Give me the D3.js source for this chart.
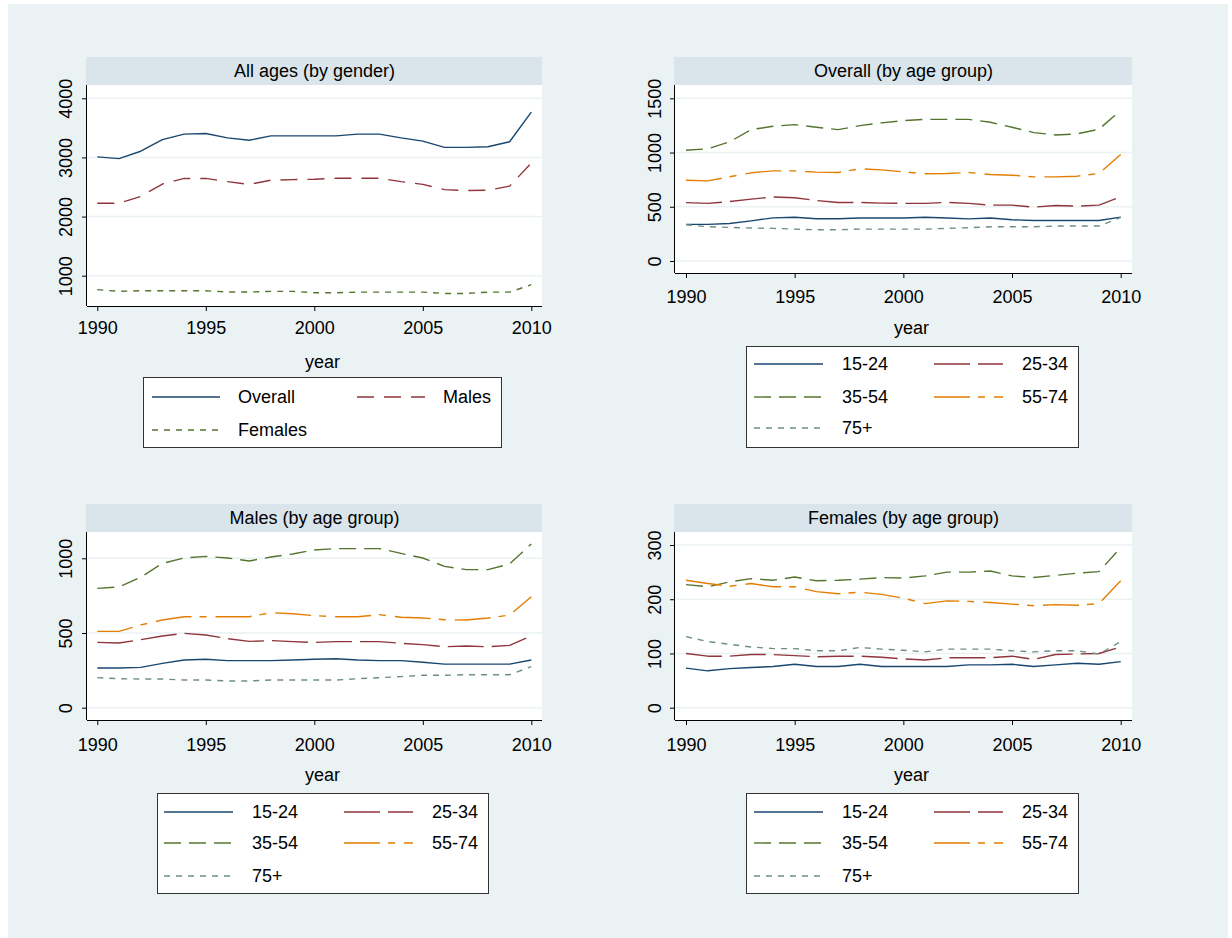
<!DOCTYPE html>
<html>
<head>
<meta charset="utf-8">
<script src="https://cdn.jsdelivr.net/npm/d3@7"></script>
<style>
  html, body { margin: 0; padding: 0; background: #ffffff; }
  svg { display: block; font-family: "Liberation Sans", Arial, Helvetica, sans-serif; }
</style>
</head>
<body>
<svg id="chart" width="1232" height="938"></svg>
<script>
// ---------------- DATA ----------------
const years = [1990,1991,1992,1993,1994,1995,1996,1997,1998,1999,2000,2001,2002,2003,2004,2005,2006,2007,2008,2009,2010];
const xTickValues = [1990, 1995, 2000, 2005, 2010];

// Panel 1: All ages (by gender)
const genderSeriesNames = ["Overall", "Males", "Females"];
const allOverall = [3010,2980,3105,3300,3395,3405,3330,3290,3365,3365,3365,3365,3395,3395,3330,3275,3170,3170,3180,3265,3765];
const allMales   = [2225,2225,2340,2550,2645,2645,2590,2545,2615,2625,2630,2648,2648,2648,2590,2545,2455,2440,2445,2515,2905];
const allFemales = [765,735,745,745,745,745,725,725,735,735,712,712,722,722,722,722,700,700,722,722,848];
const genderTicks = [1000, 2000, 3000, 4000];

// Age-group labels
const ageGroups = ["15-24", "25-34", "35-54", "55-74", "75+"];

// Panel 2: Overall (by age group)
const overall1524 = [338,338,346,370,398,404,390,390,396,396,396,404,396,388,396,380,374,374,374,374,404];
const overall2534 = [538,531,548,570,590,583,558,540,540,534,531,531,540,531,515,515,497,512,506,515,592];
const overall3554 = [1021,1034,1098,1211,1242,1257,1233,1211,1248,1273,1294,1306,1306,1306,1279,1233,1184,1162,1172,1215,1389];
const overall5574 = [745,739,776,813,831,831,819,816,850,840,822,804,807,816,797,791,776,776,782,807,981];
const overall75p  = [334,316,310,304,301,294,288,288,294,294,294,294,301,307,316,316,316,322,322,322,402];
const overallTicks = [0, 500, 1000, 1500];

// Panel 3: Males (by age group)
const males1524 = [266,266,270,297,319,324,315,315,315,319,324,328,319,315,315,304,292,292,292,292,319];
const males2534 = [437,433,455,480,498,487,462,444,449,442,437,442,442,442,431,422,408,413,408,417,480];
const males3554 = [799,808,873,966,1002,1013,1002,982,1009,1029,1056,1065,1065,1065,1033,1002,946,924,924,962,1096];
const males5574 = [511,511,554,587,609,609,609,609,636,629,616,609,609,623,605,600,589,587,600,620,743];
const males75p  = [201,194,192,192,185,185,179,179,185,185,185,185,194,201,208,217,217,221,221,221,275];
const malesTicks = [0, 500, 1000];

// Panel 4: Females (by age group)
const females1524 = [73,68,72,74,76,80,76,76,80,76,76,76,76,79,79,80,76,79,82,80,85];
const females2534 = [100,95,95,98,98,96,94,95,95,93,90,88,92,92,92,95,89,98,99,100,112];
const females3554 = [227,223,232,238,235,241,234,235,237,240,239,243,250,250,252,243,240,244,248,251,295];
const females5574 = [235,229,224,229,223,223,214,210,213,209,202,192,197,196,194,191,188,190,189,192,234];
const females75p  = [131,122,117,112,109,109,105,105,111,108,106,103,108,108,108,105,103,105,105,99,122];
const femalesTicks = [0, 100, 200, 300];

// ---------------- STYLES ----------------
const C = { navy: "#1a476f", maroon: "#90353b", green: "#55752f", orange: "#e37e00", teal: "#6e8e84" };
const genderStyles = [
  { color: C.navy,   dash: null },
  { color: C.maroon, dash: "17,10" },
  { color: C.green,  dash: "6,6" }
];
const ageStyles = [
  { color: C.navy,   dash: null },
  { color: C.maroon, dash: "36,8" },
  { color: C.green,  dash: "17,8" },
  { color: C.orange, dash: "36,8,7,9" },
  { color: C.teal,   dash: "6,6" }
];

const svg = d3.select("#chart");
svg.append("rect").attr("x", 8).attr("y", 4).attr("width", 1220).attr("height", 934).attr("fill", "#eaf2f3");

const panels = [
  {
    title: "All ages (by gender)",
    names: genderSeriesNames, values: [allOverall, allMales, allFemales], styles: genderStyles,
    ticks: genderTicks, yRef: [1000, 4000], yRefPx: [275.7, 98.3],
    left: 87, right: 542, top: 85, bottom: 306, titleTop: 57,
    x0: 97.3, x1: 531.3, tickLabelY: 328, yearY: 362, yLabelX: 66,
    legend: { x: 143, y: 377, w: 358, h: 70, rows: [397, 430], c1: [152, 220, 238], c2: [357, 425, 443] }
  },
  {
    title: "Overall (by age group)",
    names: ageGroups, values: [overall1524, overall2534, overall3554, overall5574, overall75p], styles: ageStyles,
    ticks: overallTicks, yRef: [0, 1500], yRefPx: [261, 98.3],
    left: 675, right: 1132, top: 85, bottom: 273, titleTop: 57,
    x0: 686, x1: 1120.7, tickLabelY: 296.5, yearY: 328, yLabelX: 655,
    legend: { x: 746, y: 346, w: 332, h: 101, rows: [364, 397, 428], c1: [754, 823, 842], c2: [934, 1003, 1022] }
  },
  {
    title: "Males (by age group)",
    names: ageGroups, values: [males1524, males2534, males3554, males5574, males75p], styles: ageStyles,
    ticks: malesTicks, yRef: [0, 1000], yRefPx: [707.7, 558.3],
    left: 87, right: 542, top: 532, bottom: 720, titleTop: 504,
    x0: 97.3, x1: 531.3, tickLabelY: 744.5, yearY: 775, yLabelX: 66,
    legend: { x: 157, y: 793, w: 331, h: 100, rows: [812, 843, 876], c1: [164, 233, 252], c2: [344, 413, 432] }
  },
  {
    title: "Females (by age group)",
    names: ageGroups, values: [females1524, females2534, females3554, females5574, females75p], styles: ageStyles,
    ticks: femalesTicks, yRef: [0, 300], yRefPx: [707.7, 545],
    left: 675, right: 1132, top: 532, bottom: 720, titleTop: 504,
    x0: 686, x1: 1120.7, tickLabelY: 744.5, yearY: 775, yLabelX: 655,
    legend: { x: 746, y: 793, w: 332, h: 100, rows: [812, 843, 876], c1: [754, 823, 842], c2: [934, 1003, 1022] }
  }
];

const FS = 18;

panels.forEach((p, pi) => {
  const g = svg.append("g");
  const x = d3.scaleLinear().domain([years[0], years[years.length - 1]]).range([p.x0, p.x1]);
  const y = d3.scaleLinear().domain(p.yRef).range(p.yRefPx);

  // title band
  g.append("rect").attr("x", p.left - 1).attr("y", p.titleTop).attr("width", p.right - p.left + 1)
    .attr("height", p.top - p.titleTop).attr("fill", "#d9e5eb");
  g.append("text").attr("x", (p.left + p.right) / 2).attr("y", (p.titleTop + p.top) / 2)
    .attr("text-anchor", "middle").attr("dominant-baseline", "central")
    .attr("font-size", FS).attr("fill", "#000").text(p.title);

  // plot region
  g.append("rect").attr("x", p.left).attr("y", p.top).attr("width", p.right - p.left)
    .attr("height", p.bottom - p.top).attr("fill", "#ffffff");

  // gridlines
  g.selectAll(".grid").data(p.ticks).enter().append("line")
    .attr("x1", p.left).attr("x2", p.right)
    .attr("y1", d => y(d)).attr("y2", d => y(d))
    .attr("stroke", "#eaf2f3").attr("stroke-width", 1.5);

  // clip
  const clipId = "clip" + pi;
  svg.append("clipPath").attr("id", clipId).append("rect")
    .attr("x", p.left).attr("y", p.top).attr("width", p.right - p.left).attr("height", p.bottom - p.top);

  // lines
  const line = d3.line().x((d, i) => x(years[i])).y(d => y(d));
  p.values.forEach((vals, si) => {
    const st = p.styles[si];
    g.append("path").datum(vals).attr("d", line)
      .attr("clip-path", `url(#${clipId})`)
      .attr("fill", "none").attr("stroke", st.color).attr("stroke-width", 1.4)
      .attr("stroke-dasharray", st.dash).attr("stroke-linejoin", "round");
  });

  // x axis
  const xAxis = d3.axisBottom(x).tickValues(xTickValues).tickFormat(d3.format("d")).tickSize(5).tickSizeOuter(0);
  const xg = g.append("g").attr("transform", `translate(0,${p.bottom})`).call(xAxis);
  xg.select(".domain").attr("d", `M${p.left},0.5H${p.right}`).attr("stroke", "#000");
  xg.selectAll(".tick line").attr("stroke", "#000");
  xg.selectAll(".tick text").attr("font-size", FS).attr("fill", "#000")
    .attr("font-family", "Liberation Sans, Arial, sans-serif")
    .attr("y", p.tickLabelY - p.bottom).attr("dy", "0.35em");

  // y axis
  const yAxis = d3.axisLeft(y).tickValues(p.ticks).tickFormat(d3.format("d")).tickSize(5).tickSizeOuter(0);
  const yg = g.append("g").attr("transform", `translate(${p.left},0)`).call(yAxis);
  yg.select(".domain").attr("d", `M-0.5,${p.top}V${p.bottom}`).attr("stroke", "#000");
  yg.selectAll(".tick line").attr("stroke", "#000");
  yg.selectAll(".tick text").attr("font-size", FS).attr("fill", "#000")
    .attr("font-family", "Liberation Sans, Arial, sans-serif")
    .attr("x", null).attr("dy", null)
    .attr("text-anchor", "middle").attr("dominant-baseline", "central")
    .attr("transform", `translate(${p.yLabelX - p.left},0) rotate(-90)`);

  // x axis title
  g.append("text").attr("x", (p.left + p.right) / 2 + 8).attr("y", p.yearY)
    .attr("text-anchor", "middle").attr("dominant-baseline", "central")
    .attr("font-size", FS).attr("fill", "#000").text("year");

  // legend
  const L = p.legend;
  g.append("rect").attr("x", L.x + 0.5).attr("y", L.y + 0.5).attr("width", L.w).attr("height", L.h)
    .attr("fill", "#ffffff").attr("stroke", "#333").attr("stroke-width", 1);
  p.names.forEach((name, si) => {
    const row = Math.floor(si / 2), col = si % 2;
    const c = col === 0 ? L.c1 : L.c2;
    const yy = L.rows[row];
    const st = p.styles[si];
    g.append("line").attr("x1", c[0]).attr("x2", c[1]).attr("y1", yy).attr("y2", yy)
      .attr("stroke", st.color).attr("stroke-width", 1.4).attr("stroke-dasharray", st.dash);
    g.append("text").attr("x", c[2]).attr("y", yy).attr("dominant-baseline", "central")
      .attr("font-size", FS).attr("fill", "#000").text(name);
  });
});
</script>
</body>
</html>
